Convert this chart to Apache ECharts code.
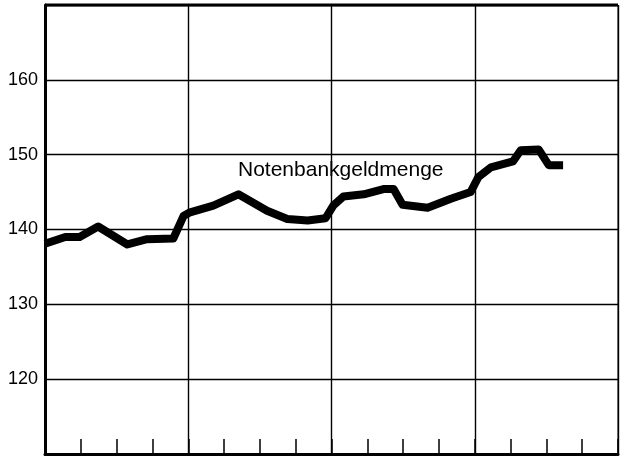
<!DOCTYPE html>
<html>
<head>
<meta charset="utf-8">
<script src="https://cdn.jsdelivr.net/npm/echarts@6/dist/echarts.min.js"></script>
<style>
html,body{margin:0;padding:0;background:#fff;}
#chart{width:620px;height:459px;}
</style>
</head>
<body>
<div id="chart"></div>
<script>
// Months from start of the period and index values
const months = [0, 1.7, 2.9, 4.45, 6.9, 8.55, 10.75, 11.6, 12.15, 14.1, 16.2, 18.6, 20.3, 22.0, 23.5, 24.15, 25.0, 26.7, 28.35, 29.2, 29.95, 32.05, 34.0, 35.65, 36.3, 37.35, 39.2, 39.85, 41.35, 42.2, 43.4];
const values = [138.1, 139.0, 139.0, 140.4, 138.0, 138.7, 138.8, 141.8, 142.3, 143.2, 144.7, 142.5, 141.4, 141.2, 141.5, 143.2, 144.4, 144.7, 145.4, 145.4, 143.3, 142.9, 144.1, 145.0, 147.0, 148.3, 149.1, 150.6, 150.7, 148.6, 148.6];
const yTicks = [120, 130, 140, 150, 160];
const seriesName = 'Notenbankgeldmenge';

const chart = echarts.init(document.getElementById('chart'), null, {renderer: 'canvas'});
const data = months.map((m, i) => [m, values[i]]);
const FONT = '"Liberation Sans", Arial, Helvetica, sans-serif';

chart.setOption({
  animation: false,
  backgroundColor: '#fff',
  grid: {left: 45, right: 2, top: 5, bottom: 5, show: true, borderColor: '#000', borderWidth: 1},
  xAxis: {
    type: 'value', min: 0, max: 48, interval: 12,
    axisLine: {show: true, onZero: false, lineStyle: {color: '#000', width: 3}},
    axisTick: {show: true, inside: true, length: 15, lineStyle: {color: '#000', width: 1.5}},
    minorTick: {show: true, splitNumber: 4, length: 15, lineStyle: {color: '#000', width: 1.5}},
    axisLabel: {show: false},
    splitLine: {show: true, lineStyle: {color: '#000', width: 1.4}}
  },
  yAxis: {
    type: 'value', min: 110, max: 170, interval: 10,
    axisLine: {show: true, lineStyle: {color: '#000', width: 3}},
    axisTick: {show: false},
    axisLabel: {
      color: '#000', fontSize: 18, fontFamily: FONT, margin: 7,
      formatter: v => yTicks.indexOf(v) >= 0 ? String(v) : ''
    },
    splitLine: {show: true, lineStyle: {color: '#000', width: 1.4}}
  },
  graphic: [
    {type: 'line', shape: {x1: 45, y1: 5, x2: 618, y2: 5}, style: {stroke: '#000', lineWidth: 3}},
    {type: 'text', left: 238, top: 160, style: {text: seriesName, font: '21px ' + FONT, fill: '#000'}}
  ],
  series: [{
    name: seriesName,
    type: 'line',
    data: data,
    symbol: 'none',
    lineStyle: {color: '#000', width: 8, join: 'round'},
    z: 5
  }]
});
</script>
</body>
</html>
